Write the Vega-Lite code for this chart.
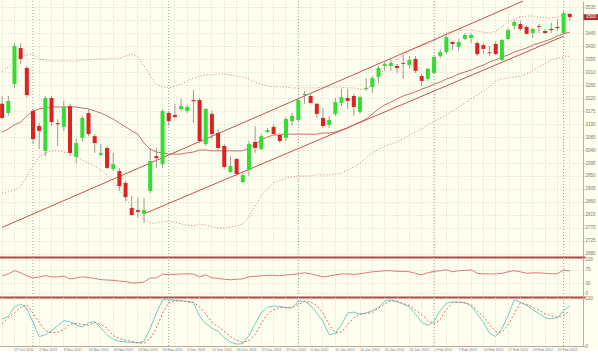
{
  "$schema": "https://vega.github.io/schema/vega-lite/v6.json",
  "background": "#fffff0",
  "padding": 0,
  "spacing": 0,
  "bounds": "flush",
  "config": {
    "view": {"stroke": null},
    "axis": {"labelFont": "Liberation Sans", "labelFontSize": 4.5, "labelColor": "#777777", "gridColor": "#d6d6c6", "gridDash": [1, 2], "ticks": false, "domain": false, "labelOverlap": false},
    "axisY": {"labelOverlap": false},
    "axisQuantitative": {"labelOverlap": false},
    "concat": {"spacing": 0}
  },
  "datasets": {
    "c": [
      {"d":"25 Oct 2011","o":3200,"h":3227,"l":3147,"c":3151,"u":3313,"m":3102,"lo":2891,"rsi":51.5,"k":57,"s":47},
      {"d":"26 Oct 2011","o":3168,"h":3227,"l":3158,"c":3210,"u":3327,"m":3113,"lo":2895,"rsi":57.6,"k":63,"s":60},
      {"d":"27 Oct 2011","o":3268,"h":3410,"l":3255,"c":3400,"u":3345,"m":3127,"lo":2902,"rsi":66.7,"k":83,"s":70},
      {"d":"28 Oct 2011","o":3393,"h":3410,"l":3338,"c":3355,"u":3365,"m":3137,"lo":2915,"rsi":60.6,"k":89,"s":82},
      {"d":"31 Oct 2011","o":3324,"h":3331,"l":3223,"c":3230,"u":3369,"m":3158,"lo":2950,"rsi":51.5,"k":80,"s":88},
      {"d":"1 Nov 2011","o":3175,"h":3182,"l":3061,"c":3078,"u":3372,"m":3175,"lo":2985,"rsi":45.5,"k":50,"s":70},
      {"d":"2 Nov 2011","o":3123,"h":3133,"l":3043,"c":3106,"u":3355,"m":3182,"lo":3016,"rsi":48,"k":20,"s":50},
      {"d":"3 Nov 2011","o":3037,"h":3227,"l":3019,"c":3220,"u":3352,"m":3185,"lo":3030,"rsi":52,"k":24,"s":33},
      {"d":"4 Nov 2011","o":3220,"h":3227,"l":3123,"c":3137,"u":3348,"m":3189,"lo":3037,"rsi":48.5,"k":32,"s":28},
      {"d":"7 Nov 2011","o":3133,"h":3147,"l":3054,"c":3129,"u":3348,"m":3189,"lo":3037,"rsi":48,"k":43,"s":29},
      {"d":"8 Nov 2011","o":3120,"h":3210,"l":3106,"c":3189,"u":3348,"m":3189,"lo":3033,"rsi":51,"k":54,"s":35},
      {"d":"9 Nov 2011","o":3192,"h":3200,"l":3019,"c":3030,"u":3348,"m":3189,"lo":3030,"rsi":42,"k":51,"s":46},
      {"d":"10 Nov 2011","o":3016,"h":3078,"l":2995,"c":3064,"u":3348,"m":3189,"lo":3019,"rsi":45,"k":45,"s":48},
      {"d":"11 Nov 2011","o":3082,"h":3158,"l":3071,"c":3151,"u":3352,"m":3185,"lo":3005,"rsi":48.5,"k":40,"s":46},
      {"d":"14 Nov 2011","o":3168,"h":3182,"l":3088,"c":3095,"u":3352,"m":3182,"lo":2995,"rsi":46,"k":49,"s":44},
      {"d":"15 Nov 2011","o":3088,"h":3095,"l":3030,"c":3064,"u":3355,"m":3175,"lo":2985,"rsi":44,"k":52,"s":50},
      {"d":"16 Nov 2011","o":3023,"h":3061,"l":3019,"c":3030,"u":3355,"m":3168,"lo":2971,"rsi":40,"k":38,"s":46},
      {"d":"17 Nov 2011","o":3047,"h":3054,"l":2974,"c":2978,"u":3355,"m":3158,"lo":2954,"rsi":39,"k":24,"s":38},
      {"d":"18 Nov 2011","o":2974,"h":3030,"l":2967,"c":2991,"u":3358,"m":3147,"lo":2933,"rsi":38,"k":14,"s":22},
      {"d":"21 Nov 2011","o":2967,"h":2978,"l":2898,"c":2915,"u":3358,"m":3133,"lo":2902,"rsi":36,"k":10,"s":16},
      {"d":"22 Nov 2011","o":2926,"h":2933,"l":2863,"c":2877,"u":3365,"m":3120,"lo":2874,"rsi":34,"k":8.5,"s":12},
      {"d":"23 Nov 2011","o":2839,"h":2881,"l":2812,"c":2815,"u":3372,"m":3106,"lo":2843,"rsi":30.3,"k":7.5,"s":10},
      {"d":"24 Nov 2011","o":2832,"h":2874,"l":2805,"c":2826,"u":3362,"m":3095,"lo":2822,"rsi":30.5,"k":6.5,"s":7},
      {"d":"25 Nov 2011","o":2819,"h":2874,"l":2787,"c":2832,"u":3331,"m":3064,"lo":2798,"rsi":33,"k":10,"s":6},
      {"d":"28 Nov 2011","o":2898,"h":3047,"l":2891,"c":3002,"u":3296,"m":3043,"lo":2787,"rsi":45.5,"k":37,"s":16},
      {"d":"29 Nov 2011","o":3019,"h":3047,"l":2978,"c":3012,"u":3268,"m":3033,"lo":2787,"rsi":45,"k":70,"s":38},
      {"d":"30 Nov 2011","o":2991,"h":3182,"l":2978,"c":3175,"u":3258,"m":3030,"lo":2791,"rsi":57,"k":98,"s":70},
      {"d":"1 Dec 2011","o":3168,"h":3175,"l":3123,"c":3140,"u":3255,"m":3026,"lo":2794,"rsi":55,"k":98,"s":92},
      {"d":"2 Dec 2011","o":3161,"h":3200,"l":3151,"c":3154,"u":3262,"m":3026,"lo":2791,"rsi":56,"k":97,"s":96},
      {"d":"5 Dec 2011","o":3182,"h":3217,"l":3175,"c":3192,"u":3268,"m":3026,"lo":2784,"rsi":57,"k":96,"s":96},
      {"d":"6 Dec 2011","o":3175,"h":3196,"l":3168,"c":3189,"u":3279,"m":3030,"lo":2780,"rsi":57.6,"k":94,"s":94},
      {"d":"7 Dec 2011","o":3213,"h":3248,"l":3133,"c":3209,"u":3289,"m":3033,"lo":2777,"rsi":57,"k":92,"s":93},
      {"d":"8 Dec 2011","o":3213,"h":3220,"l":3064,"c":3071,"u":3296,"m":3040,"lo":2784,"rsi":48.5,"k":63,"s":83},
      {"d":"9 Dec 2011","o":3061,"h":3185,"l":3054,"c":3182,"u":3300,"m":3040,"lo":2780,"rsi":54.5,"k":48,"s":68},
      {"d":"12 Dec 2011","o":3165,"h":3175,"l":3078,"c":3095,"u":3300,"m":3037,"lo":2774,"rsi":45.5,"k":38,"s":50},
      {"d":"13 Dec 2011","o":3099,"h":3113,"l":3037,"c":3047,"u":3303,"m":3037,"lo":2770,"rsi":43.9,"k":31,"s":42},
      {"d":"14 Dec 2011","o":3054,"h":3061,"l":2974,"c":2981,"u":3303,"m":3037,"lo":2770,"rsi":41,"k":18,"s":31},
      {"d":"15 Dec 2011","o":2964,"h":3019,"l":2960,"c":2985,"u":3300,"m":3037,"lo":2774,"rsi":39.8,"k":8,"s":20},
      {"d":"16 Dec 2011","o":3009,"h":3012,"l":2950,"c":2957,"u":3296,"m":3037,"lo":2777,"rsi":41,"k":4,"s":12},
      {"d":"19 Dec 2011","o":2929,"h":2967,"l":2926,"c":2953,"u":3293,"m":3037,"lo":2784,"rsi":42.4,"k":5,"s":8},
      {"d":"20 Dec 2011","o":2971,"h":3071,"l":2950,"c":3061,"u":3286,"m":3047,"lo":2808,"rsi":48.5,"k":22,"s":11},
      {"d":"21 Dec 2011","o":3068,"h":3123,"l":3030,"c":3047,"u":3275,"m":3061,"lo":2846,"rsi":50,"k":47,"s":24},
      {"d":"22 Dec 2011","o":3043,"h":3095,"l":3040,"c":3088,"u":3268,"m":3075,"lo":2881,"rsi":51.5,"k":71,"s":48},
      {"d":"23 Dec 2011","o":3102,"h":3116,"l":3099,"c":3109,"u":3262,"m":3085,"lo":2905,"rsi":53,"k":82,"s":68},
      {"d":"27 Dec 2011","o":3120,"h":3130,"l":3092,"c":3095,"u":3258,"m":3092,"lo":2926,"rsi":53,"k":85,"s":77},
      {"d":"28 Dec 2011","o":3092,"h":3099,"l":3064,"c":3071,"u":3258,"m":3092,"lo":2933,"rsi":51.5,"k":84,"s":82},
      {"d":"29 Dec 2011","o":3082,"h":3154,"l":3071,"c":3147,"u":3258,"m":3095,"lo":2943,"rsi":54.5,"k":81,"s":82},
      {"d":"30 Dec 2011","o":3140,"h":3168,"l":3123,"c":3158,"u":3255,"m":3095,"lo":2947,"rsi":55,"k":81,"s":82},
      {"d":"2 Jan 2012","o":3144,"h":3220,"l":3140,"c":3213,"u":3255,"m":3095,"lo":2950,"rsi":57.6,"k":95,"s":88},
      {"d":"3 Jan 2012","o":3230,"h":3244,"l":3200,"c":3234,"u":3255,"m":3095,"lo":2950,"rsi":60.6,"k":95,"s":95},
      {"d":"4 Jan 2012","o":3227,"h":3237,"l":3200,"c":3203,"u":3255,"m":3095,"lo":2950,"rsi":57.6,"k":86,"s":93},
      {"d":"5 Jan 2012","o":3200,"h":3203,"l":3151,"c":3165,"u":3255,"m":3095,"lo":2954,"rsi":53,"k":70,"s":86},
      {"d":"6 Jan 2012","o":3151,"h":3185,"l":3116,"c":3123,"u":3258,"m":3099,"lo":2954,"rsi":48.5,"k":52,"s":70},
      {"d":"9 Jan 2012","o":3127,"h":3158,"l":3116,"c":3144,"u":3258,"m":3099,"lo":2954,"rsi":51,"k":24,"s":45},
      {"d":"10 Jan 2012","o":3165,"h":3220,"l":3158,"c":3206,"u":3258,"m":3102,"lo":2957,"rsi":54.5,"k":27,"s":28},
      {"d":"11 Jan 2012","o":3203,"h":3251,"l":3192,"c":3223,"u":3258,"m":3109,"lo":2960,"rsi":57.6,"k":45,"s":30},
      {"d":"12 Jan 2012","o":3220,"h":3251,"l":3182,"c":3210,"u":3255,"m":3116,"lo":2971,"rsi":57,"k":70,"s":45},
      {"d":"13 Jan 2012","o":3227,"h":3234,"l":3158,"c":3189,"u":3255,"m":3127,"lo":2981,"rsi":56,"k":72,"s":60},
      {"d":"16 Jan 2012","o":3172,"h":3227,"l":3165,"c":3223,"u":3251,"m":3137,"lo":2995,"rsi":57.6,"k":67,"s":68},
      {"d":"17 Jan 2012","o":3251,"h":3289,"l":3244,"c":3255,"u":3251,"m":3147,"lo":3012,"rsi":60.6,"k":70,"s":69},
      {"d":"18 Jan 2012","o":3258,"h":3296,"l":3237,"c":3289,"u":3265,"m":3165,"lo":3030,"rsi":63.6,"k":75,"s":71},
      {"d":"19 Jan 2012","o":3293,"h":3331,"l":3272,"c":3324,"u":3293,"m":3182,"lo":3043,"rsi":65,"k":82,"s":80},
      {"d":"20 Jan 2012","o":3331,"h":3348,"l":3314,"c":3338,"u":3320,"m":3196,"lo":3054,"rsi":66.7,"k":95,"s":89},
      {"d":"23 Jan 2012","o":3331,"h":3355,"l":3314,"c":3341,"u":3341,"m":3206,"lo":3061,"rsi":66.7,"k":98,"s":96},
      {"d":"24 Jan 2012","o":3331,"h":3338,"l":3307,"c":3324,"u":3355,"m":3217,"lo":3068,"rsi":65,"k":94,"s":95},
      {"d":"25 Jan 2012","o":3341,"h":3372,"l":3286,"c":3338,"u":3369,"m":3227,"lo":3078,"rsi":65,"k":89,"s":90},
      {"d":"26 Jan 2012","o":3334,"h":3365,"l":3324,"c":3352,"u":3383,"m":3234,"lo":3092,"rsi":63.6,"k":83,"s":86},
      {"d":"27 Jan 2012","o":3355,"h":3365,"l":3307,"c":3314,"u":3393,"m":3241,"lo":3102,"rsi":59,"k":68,"s":76},
      {"d":"30 Jan 2012","o":3296,"h":3303,"l":3262,"c":3279,"u":3400,"m":3251,"lo":3113,"rsi":54.5,"k":50,"s":67},
      {"d":"31 Jan 2012","o":3286,"h":3324,"l":3279,"c":3321,"u":3407,"m":3258,"lo":3127,"rsi":60.6,"k":44,"s":54},
      {"d":"1 Feb 2012","o":3307,"h":3365,"l":3303,"c":3362,"u":3417,"m":3268,"lo":3140,"rsi":65,"k":52,"s":47},
      {"d":"2 Feb 2012","o":3365,"h":3390,"l":3358,"c":3379,"u":3431,"m":3275,"lo":3151,"rsi":66.7,"k":75,"s":56},
      {"d":"3 Feb 2012","o":3379,"h":3442,"l":3372,"c":3431,"u":3445,"m":3286,"lo":3161,"rsi":69.7,"k":91,"s":78},
      {"d":"6 Feb 2012","o":3414,"h":3417,"l":3386,"c":3407,"u":3452,"m":3293,"lo":3175,"rsi":63.6,"k":94,"s":92},
      {"d":"7 Feb 2012","o":3397,"h":3424,"l":3383,"c":3414,"u":3455,"m":3303,"lo":3189,"rsi":66.7,"k":93,"s":93},
      {"d":"8 Feb 2012","o":3424,"h":3445,"l":3421,"c":3438,"u":3455,"m":3310,"lo":3203,"rsi":68,"k":92,"s":91},
      {"d":"9 Feb 2012","o":3428,"h":3445,"l":3410,"c":3438,"u":3455,"m":3317,"lo":3217,"rsi":69.7,"k":85,"s":88},
      {"d":"10 Feb 2012","o":3410,"h":3417,"l":3365,"c":3372,"u":3452,"m":3327,"lo":3230,"rsi":59,"k":68,"s":75},
      {"d":"13 Feb 2012","o":3403,"h":3410,"l":3372,"c":3390,"u":3448,"m":3334,"lo":3244,"rsi":57.6,"k":50,"s":62},
      {"d":"14 Feb 2012","o":3378,"h":3400,"l":3365,"c":3375,"u":3445,"m":3345,"lo":3258,"rsi":57.6,"k":27,"s":46},
      {"d":"15 Feb 2012","o":3407,"h":3417,"l":3369,"c":3372,"u":3452,"m":3352,"lo":3279,"rsi":57,"k":20,"s":30},
      {"d":"16 Feb 2012","o":3352,"h":3424,"l":3348,"c":3421,"u":3466,"m":3362,"lo":3286,"rsi":59,"k":36,"s":29},
      {"d":"17 Feb 2012","o":3424,"h":3462,"l":3421,"c":3455,"u":3483,"m":3369,"lo":3289,"rsi":63.6,"k":65,"s":45},
      {"d":"20 Feb 2012","o":3469,"h":3490,"l":3459,"c":3483,"u":3493,"m":3379,"lo":3293,"rsi":66.7,"k":98,"s":68},
      {"d":"21 Feb 2012","o":3476,"h":3487,"l":3452,"c":3459,"u":3500,"m":3386,"lo":3296,"rsi":63.6,"k":93,"s":92},
      {"d":"22 Feb 2012","o":3466,"h":3473,"l":3440,"c":3442,"u":3504,"m":3393,"lo":3303,"rsi":59,"k":86,"s":88},
      {"d":"23 Feb 2012","o":3445,"h":3462,"l":3428,"c":3459,"u":3504,"m":3403,"lo":3314,"rsi":60.6,"k":77,"s":82},
      {"d":"24 Feb 2012","o":3469,"h":3476,"l":3445,"c":3466,"u":3500,"m":3410,"lo":3327,"rsi":60.6,"k":69,"s":76},
      {"d":"27 Feb 2012","o":3452,"h":3459,"l":3442,"c":3445,"u":3497,"m":3417,"lo":3338,"rsi":59,"k":60,"s":68},
      {"d":"28 Feb 2012","o":3459,"h":3480,"l":3445,"c":3455,"u":3497,"m":3424,"lo":3352,"rsi":57.6,"k":58,"s":64},
      {"d":"29 Feb 2012","o":3466,"h":3493,"l":3452,"c":3462,"u":3500,"m":3435,"lo":3358,"rsi":58,"k":60,"s":61},
      {"d":"1 Mar 2012","o":3445,"h":3521,"l":3442,"c":3514,"u":3507,"m":3442,"lo":3362,"rsi":69,"k":75,"s":65},
      {"d":"2 Mar 2012","o":3511,"h":3514,"l":3487,"c":3500,"u":3511,"m":3448,"lo":3365,"rsi":66,"k":85,"s":74}
    ],
    "chan": [
      {"ln":"A","d":"25 Oct 2011","v":2772},
      {"ln":"A","d":"2 Mar 2012","v":3626},
      {"ln":"B","d":"25 Nov 2011","v":2819},
      {"ln":"B","d":"1 Mar 2012","v":3434}
    ],
    "sep": [
      {"d":"1 Nov 2011"},{"d":"1 Dec 2011"},{"d":"2 Jan 2012"},{"d":"1 Feb 2012"},{"d":"1 Mar 2012"}
    ]
  },
  "vconcat": [
    {
      "width": 582,
      "height": 256,
      "data": {"name": "c"},
      "encoding": {
        "x": {"field": "d", "type": "ordinal",
          "scale": {"domain": ["25 Oct 2011","26 Oct 2011","27 Oct 2011","28 Oct 2011","31 Oct 2011","1 Nov 2011","2 Nov 2011","3 Nov 2011","4 Nov 2011","7 Nov 2011","8 Nov 2011","9 Nov 2011","10 Nov 2011","11 Nov 2011","14 Nov 2011","15 Nov 2011","16 Nov 2011","17 Nov 2011","18 Nov 2011","21 Nov 2011","22 Nov 2011","23 Nov 2011","24 Nov 2011","25 Nov 2011","28 Nov 2011","29 Nov 2011","30 Nov 2011","1 Dec 2011","2 Dec 2011","5 Dec 2011","6 Dec 2011","7 Dec 2011","8 Dec 2011","9 Dec 2011","12 Dec 2011","13 Dec 2011","14 Dec 2011","15 Dec 2011","16 Dec 2011","19 Dec 2011","20 Dec 2011","21 Dec 2011","22 Dec 2011","23 Dec 2011","27 Dec 2011","28 Dec 2011","29 Dec 2011","30 Dec 2011","2 Jan 2012","3 Jan 2012","4 Jan 2012","5 Jan 2012","6 Jan 2012","9 Jan 2012","10 Jan 2012","11 Jan 2012","12 Jan 2012","13 Jan 2012","16 Jan 2012","17 Jan 2012","18 Jan 2012","19 Jan 2012","20 Jan 2012","23 Jan 2012","24 Jan 2012","25 Jan 2012","26 Jan 2012","27 Jan 2012","30 Jan 2012","31 Jan 2012","1 Feb 2012","2 Feb 2012","3 Feb 2012","6 Feb 2012","7 Feb 2012","8 Feb 2012","9 Feb 2012","10 Feb 2012","13 Feb 2012","14 Feb 2012","15 Feb 2012","16 Feb 2012","17 Feb 2012","20 Feb 2012","21 Feb 2012","22 Feb 2012","23 Feb 2012","24 Feb 2012","27 Feb 2012","28 Feb 2012","29 Feb 2012","1 Mar 2012","2 Mar 2012","5 Mar 2012","6 Mar 2012"], "range": [-1.93, 584.2], "paddingInner": 0, "paddingOuter": 0},
          "axis": {"title": null, "labels": false, "grid": true, "values": ["25 Oct 2011","27 Oct 2011","31 Oct 2011","2 Nov 2011","4 Nov 2011","8 Nov 2011","10 Nov 2011","14 Nov 2011","16 Nov 2011","18 Nov 2011","22 Nov 2011","24 Nov 2011","28 Nov 2011","30 Nov 2011","2 Dec 2011","6 Dec 2011","8 Dec 2011","12 Dec 2011","14 Dec 2011","16 Dec 2011","20 Dec 2011","22 Dec 2011","27 Dec 2011","29 Dec 2011","2 Jan 2012","4 Jan 2012","6 Jan 2012","10 Jan 2012","12 Jan 2012","16 Jan 2012","18 Jan 2012","20 Jan 2012","24 Jan 2012","26 Jan 2012","30 Jan 2012","1 Feb 2012","3 Feb 2012","7 Feb 2012","9 Feb 2012","13 Feb 2012","15 Feb 2012","17 Feb 2012","21 Feb 2012","23 Feb 2012","27 Feb 2012","29 Feb 2012","2 Mar 2012"]}
        },
        "y": {"type": "quantitative", "scale": {"domain": [2669.6, 3555.8], "nice": false, "zero": false},
          "axis": {"title": null, "orient": "right", "grid": true, "domain": true, "domainColor": "#c8a8a8", "labelPadding": 2, "format": "d", "labelOverlap": false, "labelBound": false, "labelExpr": "datum.value == 3490 ? '' : datum.label", "values": [2680,2725,2770,2815,2860,2905,2950,2995,3040,3085,3130,3175,3220,3265,3310,3355,3400,3445,3490,3535]}}
      },
      "layer": [
        {"data": {"name": "sep"}, "mark": {"type": "rule", "color": "#a0a0a0", "strokeDash": [1, 2], "strokeWidth": 1}, "encoding": {"y": null}},
        {"mark": {"type": "line", "color": "#cc8080", "strokeDash": [1, 2], "strokeWidth": 1}, "encoding": {"y": {"field": "u", "type": "quantitative"}, "order": {"value": null}}},
        {"mark": {"type": "line", "color": "#cc8080", "strokeDash": [1, 2], "strokeWidth": 1}, "encoding": {"y": {"field": "lo", "type": "quantitative"}, "order": {"value": null}}},
        {"mark": {"type": "line", "color": "#d06a6a", "strokeWidth": 1}, "encoding": {"y": {"field": "m", "type": "quantitative"}, "order": {"value": null}}},
        {"data": {"name": "chan"}, "mark": {"type": "line", "color": "#c85050", "strokeWidth": 1, "clip": true}, "encoding": {"y": {"field": "v", "type": "quantitative"}, "detail": {"field": "ln"}, "order": {"value": null}}},
        {"mark": {"type": "rule", "color": "#a09898", "strokeWidth": 1}, "encoding": {"y": {"field": "l", "type": "quantitative"}, "y2": {"field": "h"}}},
        {"mark": {"type": "bar", "width": 4},
          "encoding": {"y": {"field": "o", "type": "quantitative"}, "y2": {"field": "c"},
            "color": {"condition": {"test": "datum.c >= datum.o", "value": "#33dd33"}, "value": "#dd2222"}}},
        {"transform": [{"filter": "datum.d == '2 Mar 2012'"}],
          "mark": {"type": "point", "shape": "M0.5,-1H5.5V1H0.5Z", "size": 36, "filled": true, "color": "#a83030", "opacity": 1},
          "encoding": {"x": {"datum": "6 Mar 2012"}, "y": {"field": "c", "type": "quantitative"}}},
        {"transform": [{"filter": "datum.d == '2 Mar 2012'"}],
          "mark": {"type": "text", "dx": 9, "align": "center", "baseline": "middle", "font": "Liberation Sans", "fontSize": 4.5, "color": "#ffffff"},
          "encoding": {"x": {"datum": "6 Mar 2012"}, "y": {"field": "c", "type": "quantitative"}, "text": {"field": "c", "type": "quantitative", "format": "d"}}}
      ]
    },
    {
      "width": 582,
      "height": 40,
      "data": {"name": "c"},
      "encoding": {
        "x": {"field": "d", "type": "ordinal",
          "scale": {"domain": ["25 Oct 2011","26 Oct 2011","27 Oct 2011","28 Oct 2011","31 Oct 2011","1 Nov 2011","2 Nov 2011","3 Nov 2011","4 Nov 2011","7 Nov 2011","8 Nov 2011","9 Nov 2011","10 Nov 2011","11 Nov 2011","14 Nov 2011","15 Nov 2011","16 Nov 2011","17 Nov 2011","18 Nov 2011","21 Nov 2011","22 Nov 2011","23 Nov 2011","24 Nov 2011","25 Nov 2011","28 Nov 2011","29 Nov 2011","30 Nov 2011","1 Dec 2011","2 Dec 2011","5 Dec 2011","6 Dec 2011","7 Dec 2011","8 Dec 2011","9 Dec 2011","12 Dec 2011","13 Dec 2011","14 Dec 2011","15 Dec 2011","16 Dec 2011","19 Dec 2011","20 Dec 2011","21 Dec 2011","22 Dec 2011","23 Dec 2011","27 Dec 2011","28 Dec 2011","29 Dec 2011","30 Dec 2011","2 Jan 2012","3 Jan 2012","4 Jan 2012","5 Jan 2012","6 Jan 2012","9 Jan 2012","10 Jan 2012","11 Jan 2012","12 Jan 2012","13 Jan 2012","16 Jan 2012","17 Jan 2012","18 Jan 2012","19 Jan 2012","20 Jan 2012","23 Jan 2012","24 Jan 2012","25 Jan 2012","26 Jan 2012","27 Jan 2012","30 Jan 2012","31 Jan 2012","1 Feb 2012","2 Feb 2012","3 Feb 2012","6 Feb 2012","7 Feb 2012","8 Feb 2012","9 Feb 2012","10 Feb 2012","13 Feb 2012","14 Feb 2012","15 Feb 2012","16 Feb 2012","17 Feb 2012","20 Feb 2012","21 Feb 2012","22 Feb 2012","23 Feb 2012","24 Feb 2012","27 Feb 2012","28 Feb 2012","29 Feb 2012","1 Mar 2012","2 Mar 2012","5 Mar 2012","6 Mar 2012"], "range": [-1.93, 584.2], "paddingInner": 0, "paddingOuter": 0},
          "axis": {"title": null, "labels": false, "grid": true, "values": ["25 Oct 2011","27 Oct 2011","31 Oct 2011","2 Nov 2011","4 Nov 2011","8 Nov 2011","10 Nov 2011","14 Nov 2011","16 Nov 2011","18 Nov 2011","22 Nov 2011","24 Nov 2011","28 Nov 2011","30 Nov 2011","2 Dec 2011","6 Dec 2011","8 Dec 2011","12 Dec 2011","14 Dec 2011","16 Dec 2011","20 Dec 2011","22 Dec 2011","27 Dec 2011","29 Dec 2011","2 Jan 2012","4 Jan 2012","6 Jan 2012","10 Jan 2012","12 Jan 2012","16 Jan 2012","18 Jan 2012","20 Jan 2012","24 Jan 2012","26 Jan 2012","30 Jan 2012","1 Feb 2012","3 Feb 2012","7 Feb 2012","9 Feb 2012","13 Feb 2012","15 Feb 2012","17 Feb 2012","21 Feb 2012","23 Feb 2012","27 Feb 2012","29 Feb 2012","2 Mar 2012"]}
        }
      },
      "layer": [
        {"data": {"name": "sep"}, "mark": {"type": "rule", "color": "#a0a0a0", "strokeDash": [1, 2], "strokeWidth": 1}, "encoding": {}},
        {"mark": {"type": "line", "color": "#e07878", "strokeWidth": 1},
          "encoding": {"y": {"field": "rsi", "type": "quantitative", "scale": {"domain": [-12, 108], "nice": false, "zero": false},
            "axis": {"title": null, "orient": "right", "grid": true, "domain": true, "domainColor": "#c8a8a8", "labelPadding": 2, "labelOverlap": false, "labelBound": false, "values": [-12, 0, 30, 70, 100, 108],
              "labelExpr": "datum.value == 108 || datum.value == -12 ? '' : datum.label",
              "gridColor": {"condition": {"test": "datum.value == 108 || datum.value == -12", "value": "#a84848"}, "value": "#d6d6c6"},
              "gridWidth": {"condition": {"test": "datum.value == 108 || datum.value == -12", "value": 2}, "value": 1},
              "gridDash": {"condition": {"test": "datum.value == 108 || datum.value == -12", "value": []}, "value": [1, 2]}}},
            "order": {"value": null}}}
      ]
    },
    {
      "width": 582,
      "height": 49,
      "data": {"name": "c"},
      "encoding": {
        "x": {"field": "d", "type": "ordinal",
          "scale": {"domain": ["25 Oct 2011","26 Oct 2011","27 Oct 2011","28 Oct 2011","31 Oct 2011","1 Nov 2011","2 Nov 2011","3 Nov 2011","4 Nov 2011","7 Nov 2011","8 Nov 2011","9 Nov 2011","10 Nov 2011","11 Nov 2011","14 Nov 2011","15 Nov 2011","16 Nov 2011","17 Nov 2011","18 Nov 2011","21 Nov 2011","22 Nov 2011","23 Nov 2011","24 Nov 2011","25 Nov 2011","28 Nov 2011","29 Nov 2011","30 Nov 2011","1 Dec 2011","2 Dec 2011","5 Dec 2011","6 Dec 2011","7 Dec 2011","8 Dec 2011","9 Dec 2011","12 Dec 2011","13 Dec 2011","14 Dec 2011","15 Dec 2011","16 Dec 2011","19 Dec 2011","20 Dec 2011","21 Dec 2011","22 Dec 2011","23 Dec 2011","27 Dec 2011","28 Dec 2011","29 Dec 2011","30 Dec 2011","2 Jan 2012","3 Jan 2012","4 Jan 2012","5 Jan 2012","6 Jan 2012","9 Jan 2012","10 Jan 2012","11 Jan 2012","12 Jan 2012","13 Jan 2012","16 Jan 2012","17 Jan 2012","18 Jan 2012","19 Jan 2012","20 Jan 2012","23 Jan 2012","24 Jan 2012","25 Jan 2012","26 Jan 2012","27 Jan 2012","30 Jan 2012","31 Jan 2012","1 Feb 2012","2 Feb 2012","3 Feb 2012","6 Feb 2012","7 Feb 2012","8 Feb 2012","9 Feb 2012","10 Feb 2012","13 Feb 2012","14 Feb 2012","15 Feb 2012","16 Feb 2012","17 Feb 2012","20 Feb 2012","21 Feb 2012","22 Feb 2012","23 Feb 2012","24 Feb 2012","27 Feb 2012","28 Feb 2012","29 Feb 2012","1 Mar 2012","2 Mar 2012","5 Mar 2012","6 Mar 2012"], "range": [-1.93, 584.2], "paddingInner": 0, "paddingOuter": 0},
          "axis": {"title": null, "grid": true, "domain": true, "domainColor": "#b8a8a8", "labelAlign": "left", "labelAngle": 0, "labelFontSize": 3.6, "labelPadding": 1, "labelOverlap": false, "labelBound": false,
            "values": ["25 Oct 2011","27 Oct 2011","31 Oct 2011","2 Nov 2011","4 Nov 2011","8 Nov 2011","10 Nov 2011","14 Nov 2011","16 Nov 2011","18 Nov 2011","22 Nov 2011","24 Nov 2011","28 Nov 2011","30 Nov 2011","2 Dec 2011","6 Dec 2011","8 Dec 2011","12 Dec 2011","14 Dec 2011","16 Dec 2011","20 Dec 2011","22 Dec 2011","27 Dec 2011","29 Dec 2011","2 Jan 2012","4 Jan 2012","6 Jan 2012","10 Jan 2012","12 Jan 2012","16 Jan 2012","18 Jan 2012","20 Jan 2012","24 Jan 2012","26 Jan 2012","30 Jan 2012","1 Feb 2012","3 Feb 2012","7 Feb 2012","9 Feb 2012","13 Feb 2012","15 Feb 2012","17 Feb 2012","21 Feb 2012","23 Feb 2012","27 Feb 2012","29 Feb 2012","2 Mar 2012"],
            "labelExpr": "indexof(['27 Oct 2011','2 Nov 2011','8 Nov 2011','14 Nov 2011','18 Nov 2011','24 Nov 2011','30 Nov 2011','6 Dec 2011','12 Dec 2011','16 Dec 2011','22 Dec 2011','29 Dec 2011','4 Jan 2012','10 Jan 2012','16 Jan 2012','20 Jan 2012','26 Jan 2012','1 Feb 2012','7 Feb 2012','13 Feb 2012','17 Feb 2012','23 Feb 2012','29 Feb 2012'], datum.value) >= 0 ? datum.value : ''"}
        }
      },
      "layer": [
        {"data": {"name": "sep"}, "mark": {"type": "rule", "color": "#a0a0a0", "strokeDash": [1, 2], "strokeWidth": 1}, "encoding": {}},
        {"mark": {"type": "line", "color": "#70ccc4", "strokeWidth": 1},
          "encoding": {"y": {"field": "k", "type": "quantitative", "scale": {"domain": [0, 104], "nice": false, "zero": false},
            "axis": {"title": null, "orient": "right", "grid": true, "domain": true, "domainColor": "#c8a8a8", "labelPadding": 2, "labelOverlap": false, "labelBound": false, "values": [0, 20, 80, 100]}},
            "order": {"value": null}}},
        {"mark": {"type": "line", "color": "#e06868", "strokeDash": [2, 2], "strokeWidth": 1}, "encoding": {"y": {"field": "s", "type": "quantitative", "axis": {"title": null}}, "order": {"value": null}}}
      ]
    }
  ]
}
